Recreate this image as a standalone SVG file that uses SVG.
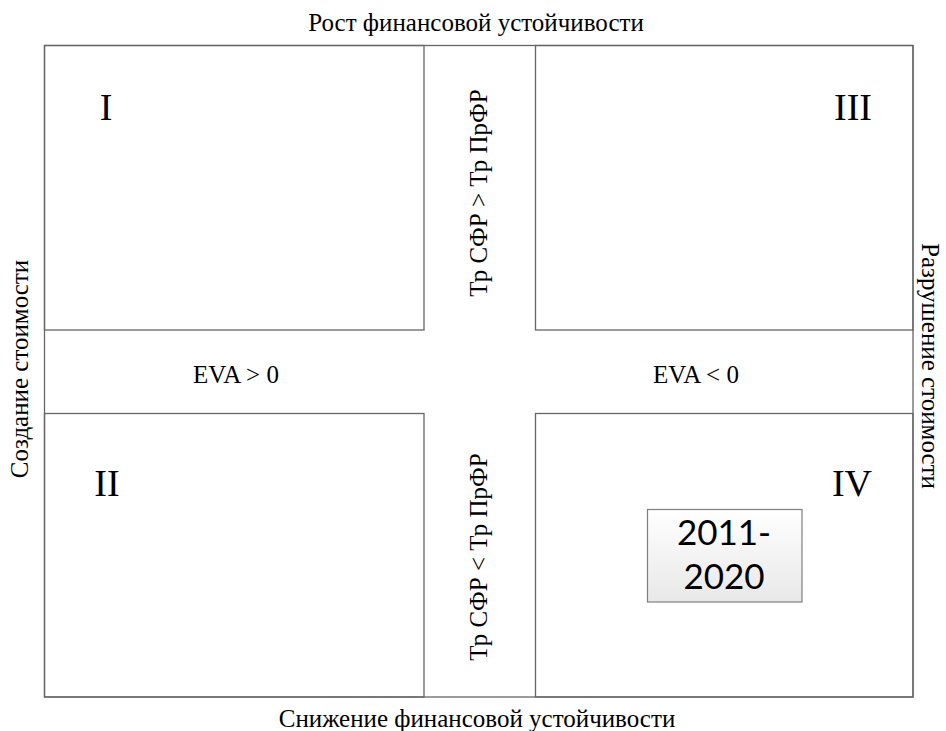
<svg xmlns="http://www.w3.org/2000/svg" width="946" height="731" viewBox="0 0 946 731">
  <style>
    .frame { fill: none; stroke: #666666; stroke-width: 1.3; }
    .lbl { font-family: "Liberation Serif", "Times New Roman", serif; font-size: 25px; fill: #000; text-anchor: middle; }
    .num { font-family: "Liberation Serif", "Times New Roman", serif; font-size: 38px; fill: #000; text-anchor: middle; }
    .yr { font-family: Lato, "Open Sans", sans-serif; font-size: 35px; fill: #000; text-anchor: middle; }
  </style>
  <defs>
    <linearGradient id="boxFill" x1="0" y1="0" x2="0" y2="1">
      <stop offset="0" stop-color="#ffffff"/>
      <stop offset="1" stop-color="#e8e8e8"/>
    </linearGradient>
  </defs>
  <rect width="946" height="731" fill="#ffffff"/>

  <!-- outer border of the matrix -->
  <g id="frame">
    <rect class="frame" x="44.5" y="45.5" width="868.5" height="651.5"/>
  </g>

  <!-- four quadrants -->
  <g id="quadrant-I">
    <rect class="frame" x="44.5" y="45.5" width="379.5" height="284.5"/>
    <text class="num" x="106" y="120">I</text>
  </g>
  <g id="quadrant-III">
    <rect class="frame" x="535.5" y="45.5" width="377.5" height="284.5"/>
    <text class="num" x="853" y="120">III</text>
  </g>
  <g id="quadrant-II">
    <rect class="frame" x="44.5" y="413.5" width="379.5" height="283.5"/>
    <text class="num" x="107" y="496">II</text>
  </g>
  <g id="quadrant-IV">
    <rect class="frame" x="535.5" y="413.5" width="377.5" height="283.5"/>
    <text class="num" x="852" y="496">IV</text>
  </g>

  <!-- period marker -->
  <g id="period">
    <rect x="647.5" y="509.5" width="154.5" height="92.5" fill="url(#boxFill)" stroke="#7f7f7f" stroke-width="1.2"/>
    <text class="yr" x="724" y="545">2011-</text>
    <text class="yr" x="724" y="589">2020</text>
  </g>

  <!-- axis captions -->
  <g id="axis-top"><text class="lbl" x="476" y="31">Рост финансовой устойчивости</text></g>
  <g id="axis-bottom"><text class="lbl" x="477" y="727">Снижение финансовой устойчивости</text></g>
  <g id="axis-left"><text class="lbl" transform="translate(28,369) rotate(-90)">Создание стоимости</text></g>
  <g id="axis-right"><text class="lbl" transform="translate(922,366) rotate(90)">Разрушение стоимости</text></g>

  <!-- conditions in the central bands -->
  <g id="cond-top"><text class="lbl" transform="translate(487,193) rotate(-90)">Тр СФР &gt; Тр ПрФР</text></g>
  <g id="cond-bottom"><text class="lbl" transform="translate(487,557) rotate(-90)">Тр СФР &lt; Тр ПрФР</text></g>
  <g id="cond-left"><text class="lbl" x="236" y="383">EVA &gt; 0</text></g>
  <g id="cond-right"><text class="lbl" x="696" y="383">EVA &lt; 0</text></g>

  <!-- no connectors in this matrix -->
  <g id="connectors"/>
</svg>
